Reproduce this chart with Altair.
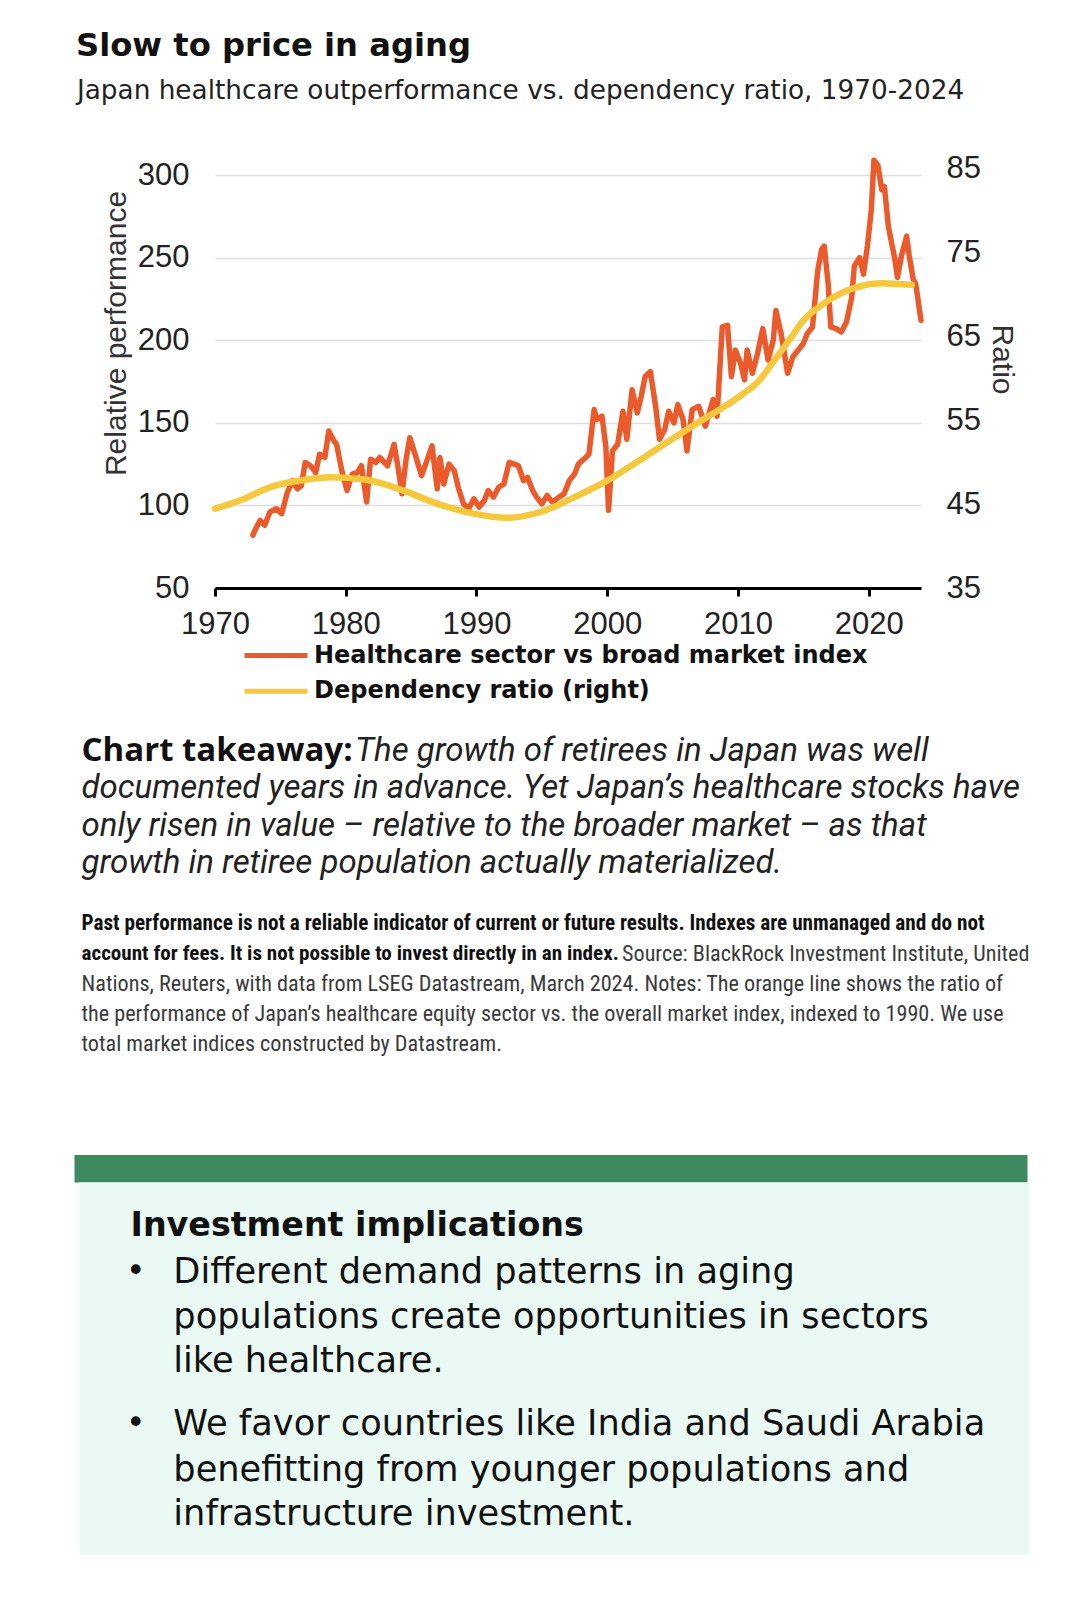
import altair as alt
import pandas as pd

# ---------------- data ----------------
hc_years = [1972.9, 1973.0, 1973.45, 1973.8, 1974.2, 1974.7, 1975.1, 1975.5, 1975.9, 1976.3,
            1976.6, 1976.9, 1977.3, 1977.7, 1978.0, 1978.4, 1978.7, 1979.1, 1979.3, 1979.7,
            1980.1, 1980.5, 1980.9, 1981.2, 1981.6, 1981.9, 1982.3, 1982.6, 1983.2, 1983.7,
            1984.0, 1984.3, 1984.6, 1984.9, 1985.3, 1985.8, 1986.2, 1986.6, 1987.0, 1987.2,
            1987.5, 1987.9, 1988.3, 1988.6, 1989.0, 1989.4, 1989.8, 1990.2, 1990.6, 1990.9,
            1991.3, 1991.7, 1992.1, 1992.5, 1992.9, 1993.2, 1993.6, 1993.9, 1994.3, 1994.6,
            1995.0, 1995.4, 1995.8, 1996.3, 1996.7, 1997.1, 1997.5, 1997.8, 1998.2, 1998.6,
            1999.0, 1999.2, 1999.6, 1999.9, 2000.1, 2000.4, 2000.8, 2001.2, 2001.5, 2001.9,
            2002.3, 2002.6, 2002.9, 2003.3, 2003.7, 2004.0, 2004.4, 2004.7, 2005.1, 2005.4,
            2005.8, 2006.1, 2006.5, 2007.0, 2007.5, 2008.1, 2008.4, 2008.8, 2009.2, 2009.5,
            2009.8, 2010.2, 2010.5, 2010.7, 2011.1, 2011.5, 2011.9, 2012.3, 2012.7, 2012.9,
            2013.3, 2013.8, 2014.2, 2014.7, 2015.0, 2015.3, 2015.7, 2016.1, 2016.4, 2016.6,
            2016.9, 2017.1, 2017.5, 2017.9, 2018.3, 2018.7, 2018.9, 2019.3, 2019.6, 2019.9,
            2020.2, 2020.4, 2020.7, 2021.0, 2021.2, 2021.5, 2021.7, 2022.0, 2022.2, 2022.5,
            2022.9, 2023.1, 2023.4, 2023.6, 2024.0]
hc_values = [82, 84, 91, 88, 96, 98, 95, 107, 115, 110,
             112, 126, 124, 120, 131, 129, 145, 139, 137, 121,
             109, 119, 120, 124, 102, 128, 126, 129, 124, 137,
             123, 107, 127, 141, 131, 118, 127, 136, 110, 129,
             113, 125, 121, 111, 101, 98, 104, 99, 103, 109,
             105, 111, 113, 126, 125, 124, 115, 117, 109, 105,
             101, 106, 102, 105, 107, 115, 119, 125, 128, 131,
             158, 152, 154, 135, 97, 133, 137, 157, 140, 170,
             156, 166, 178, 181, 160, 140, 146, 157, 150, 161,
             152, 133, 158, 160, 148, 164, 154, 208, 209, 178,
             194, 186, 176, 194, 180, 192, 207, 188, 200, 218,
             204, 180, 190, 195, 198, 204, 208, 242, 255, 257,
             234, 208, 207, 205, 211, 226, 245, 250, 240, 257,
             279, 309, 306, 291, 293, 269, 261, 249, 238, 251,
             263, 251, 237, 234, 212]

dr_years = [1970, 1971.9, 1974.4, 1976.9, 1978.8, 1981.6, 1984.2, 1987.2, 1989.8, 1992.3,
            1994.9, 1997.5, 2000.0, 2002.6, 2006.4, 2010.2, 2011.5, 2012.8, 2014.1, 2014.9,
            2016.6, 2019.2, 2021.0, 2023.3]
dr_values = [44.6, 45.6, 47.3, 48.1, 48.4, 48.1, 46.9, 45.1, 44.0, 43.5,
             44.2, 46.0, 48.0, 50.6, 54.5, 58.3, 59.9, 62.6, 65.4, 67.2,
             69.5, 71.5, 71.9, 71.7]

series_names = ["Healthcare sector vs broad market index", "Dependency ratio (right)"]
series_colors = ["#ea5a2b", "#f6c83e"]
x_ticks = [1970, 1980, 1990, 2000, 2010, 2020]
left_ticks = [50, 100, 150, 200, 250, 300]
right_ticks = [35, 45, 55, 65, 75, 85]

TITLE = "Slow to price in aging"
SUBTITLE = "Japan healthcare outperformance vs. dependency ratio, 1970-2024"
TAKEAWAY_LEAD = "Chart takeaway:"
TAKEAWAY_LINES = [
    "The growth of retirees in Japan was well",
    "documented years in advance. Yet Japan\u2019s healthcare stocks have",
    "only risen in value \u2013 relative to the broader market \u2013 as that",
    "growth in retiree population actually materialized.",
]
FOOT_BOLD = [
    "Past performance is not a reliable indicator of current or future results. Indexes are unmanaged and do not",
    "account for fees. It is not possible to invest directly in an index.",
]
FOOT_REG = [
    "Source: BlackRock Investment Institute, United",
    "Nations, Reuters, with data from LSEG Datastream, March 2024. Notes: The orange line shows the ratio of",
    "the performance of Japan\u2019s healthcare equity sector vs. the overall market index, indexed to 1990. We use",
    "total market indices constructed by Datastream.",
]
IMPL_TITLE = "Investment implications"
IMPL_BULLETS = [
    ["Different demand patterns in aging",
     "populations create opportunities in sectors",
     "like healthcare."],
    ["We favor countries like India and Saudi Arabia",
     "benefitting from younger populations and",
     "infrastructure investment."],
]

df_hc = pd.DataFrame({"year": hc_years, "value": hc_values, "series": series_names[0]})
df_dr = pd.DataFrame({"year": dr_years, "ratio": dr_values, "series": series_names[1]})
one = pd.DataFrame({"k": [0]})

AX_FONT = "Liberation Sans"
WIDE_FONT = "DejaVu Sans"
FOOT_FONT = "Liberation Sans Narrow, Roboto Condensed, DejaVu Sans Condensed, Roboto, sans-serif"

x_enc = alt.X("year:Q", scale=alt.Scale(domain=[1970, 2024], nice=False),
              axis=alt.Axis(values=x_ticks, format="d", grid=False, title=None,
                            domainColor="black", domainWidth=3, tickColor="black",
                            tickWidth=3, tickSize=8, labelFont=AX_FONT, labelFontSize=31,
                            labelColor="#222", labelPadding=13, labelFlush=False))

color_enc = alt.Color(
    "series:N",
    scale=alt.Scale(domain=series_names, range=series_colors),
    legend=alt.Legend(orient="none", legendX=27, legendY=467.5,
                      title=None, padding=0, symbolType="M-1,0H5",
                      symbolSize=441, symbolStrokeWidth=5,
                      labelOffset=46, rowPadding=10.7,
                      labelFont=WIDE_FONT, labelFontWeight="bold",
                      labelFontSize=24, labelColor="#111", labelLimit=800),
)

hc = alt.Chart(df_hc).mark_line(strokeWidth=5.5, strokeJoin="round", strokeCap="round").encode(
    x=x_enc,
    y=alt.Y("value:Q", scale=alt.Scale(domain=[50, 300], nice=False),
            axis=alt.Axis(values=left_ticks, title="Relative performance", titleFont=AX_FONT,
                          titleFontSize=30, titleFontWeight="normal", titleColor="#333",
                          titlePadding=6, titleY=158, labelFont=AX_FONT, labelFontSize=31,
                          labelColor="#222", labelPadding=26, domain=False, ticks=False,
                          grid=True, gridColor="#dcdde6", gridWidth=1.5)),
    color=color_enc,
)

dr = alt.Chart(df_dr).mark_line(strokeWidth=6.5, interpolate="monotone", strokeCap="round").encode(
    x=alt.X("year:Q"),
    y=alt.Y("ratio:Q", scale=alt.Scale(domain=[35, 85], nice=False),
            axis=alt.Axis(orient="right", values=right_ticks, title="Ratio", titleFont=AX_FONT,
                          titleFontSize=30, titleFontWeight="normal", titleColor="#333",
                          titlePadding=6, titleY=184, labelFont=AX_FONT, labelFontSize=31,
                          labelColor="#222", labelPadding=25, domain=False, ticks=False,
                          grid=False,
                          labelOffset={"expr": "-(datum.value - 35) * 0.125"})),
    color=color_enc,
)


def txt(s, x, y, size, font, weight="normal", style="normal", color="#111"):
    return alt.Chart(one).mark_text(
        align="left", baseline="middle", fontSize=size, font=font,
        fontWeight=weight, fontStyle=style, color=color,
    ).encode(x=alt.value(x), y=alt.value(y), text=alt.value(s))


def box(x1, x2, y1, y2, color):
    return alt.Chart(one).mark_rect(color=color).encode(
        x=alt.value(x1), x2=alt.value(x2), y=alt.value(y1), y2=alt.value(y2))


layers = [
    box(-140.5, 812.5, 980, 1007.5, "#3c8a5d"),
    box(-135.5, 814.5, 1007.5, 1379.5, "#eaf9f3"),
    hc,
    dr,
    txt(TITLE, -139, -129, 32.2, WIDE_FONT, weight="bold", color="#111"),
    txt(SUBTITLE, -138, -84, 26.3, WIDE_FONT, color="#222"),
    txt(TAKEAWAY_LEAD, -133.5, 576, 33, "Open Sans", weight="bold"),
]
take_y = [576, 613, 651, 688]
take_x = [140, -133.5, -133.5, -133.5]
for s, xx, yy in zip(TAKEAWAY_LINES, take_x, take_y):
    layers.append(txt(s, xx, yy, 33, "Roboto", style="italic", color="#222"))

foot_y = [748.5, 779, 809, 839, 869]
layers.append(txt(FOOT_BOLD[0], -133.5, foot_y[0], 21.2, FOOT_FONT, weight="bold"))
layers.append(txt(FOOT_BOLD[1], -133.5, foot_y[1], 21.1, FOOT_FONT, weight="bold"))
layers.append(txt(FOOT_REG[0], 407, foot_y[1], 22.2, FOOT_FONT, color="#3a3a3a"))
for s, yy in zip(FOOT_REG[1:], foot_y[2:]):
    layers.append(txt(s, -133.5, yy, 22.2, FOOT_FONT, color="#3a3a3a"))

layers.append(txt(IMPL_TITLE, -84.5, 1051, 33.3, WIDE_FONT, weight="bold"))
bullet_y = [[1097, 1142, 1186], [1249, 1295, 1339]]
for lines, ys in zip(IMPL_BULLETS, bullet_y):
    layers.append(txt("\u2022", -89, ys[0], 33, WIDE_FONT))
    for s, yy in zip(lines, ys):
        layers.append(txt(s, -41.7, yy, 35.2, WIDE_FONT))

chart = alt.layer(*layers).resolve_scale(y="independent").properties(
    width=706, height=413,
    autosize=alt.AutoSizeParams(type="none"),
    padding={"left": 207, "top": 167, "right": 130, "bottom": 990},
    background="white",
).configure_view(stroke=None)

chart.save("out.html", embed_options={"renderer": "svg", "actions": False})
